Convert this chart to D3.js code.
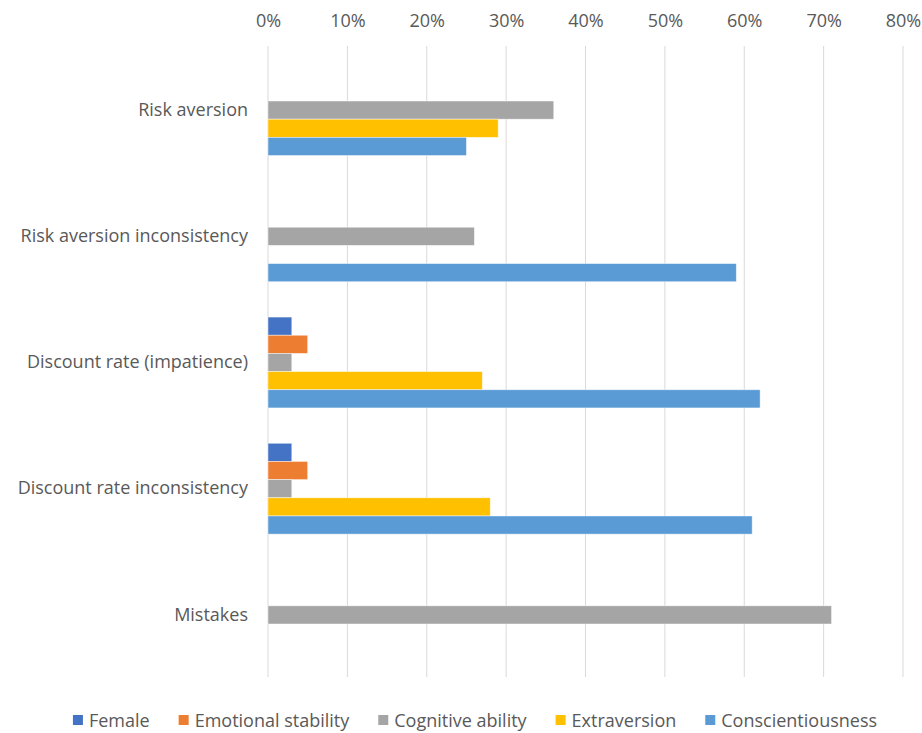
<!DOCTYPE html>
<html>
<head>
<meta charset="utf-8">
<script src="https://cdn.jsdelivr.net/npm/d3@7"></script>
<style>
  html, body { margin: 0; padding: 0; background: #fff; }
  svg text { font-family: "Open Sans", "Noto Sans", sans-serif; fill: #595959; }
</style>
</head>
<body>
<svg id="chart" width="922" height="733"></svg>
<script>
// Share of variance explained, by outcome and trait
const categories = ["Risk aversion", "Risk aversion inconsistency", "Discount rate (impatience)", "Discount rate inconsistency", "Mistakes"];
const seriesNames = ["Female", "Emotional stability", "Cognitive ability", "Extraversion", "Conscientiousness"];
const seriesColors = ["#4472C4", "#ED7D31", "#A5A5A5", "#FFC000", "#5B9BD5"];
const female        = [null, null, 0.03, 0.03, null];
const emotional     = [null, null, 0.05, 0.05, null];
const cognitive     = [0.36, 0.26, 0.03, 0.03, 0.71];
const extraversion  = [0.29, null, 0.27, 0.28, null];
const conscientious = [0.25, 0.59, 0.62, 0.61, null];
const seriesValues = [female, emotional, cognitive, extraversion, conscientious];
const tickValues = [0, 0.1, 0.2, 0.3, 0.4, 0.5, 0.6, 0.7, 0.8];

const svg = d3.select("#chart");
const fontSize = 18;
const fontFamily = '"Open Sans", "Noto Sans", sans-serif';

const x = d3.scaleLinear().domain([0, 0.8]).range([268, 903]);
const y = d3.scaleBand().domain(categories).range([47, 678]).paddingInner(0.28).paddingOuter(0.14);
const inner = d3.scaleBand().domain(seriesNames).range([0, y.bandwidth()]);

// vertical gridlines
svg.append("g").selectAll("line").data(tickValues).join("line")
  .attr("x1", d => x(d)).attr("x2", d => x(d))
  .attr("y1", 46).attr("y2", 677)
  .attr("stroke", "#d9d9d9").attr("stroke-width", 1);

// top axis labels
const xAxis = d3.axisTop(x).tickValues(tickValues).tickFormat(d3.format(".0%")).tickSize(0).tickPadding(0);
const gx = svg.append("g").attr("transform", "translate(0,27)").call(xAxis);
gx.select(".domain").remove();
gx.selectAll("text").attr("font-size", fontSize).attr("dy", 0)
  .style("font-family", fontFamily).attr("fill", "#595959");

// bars
const rows = [];
categories.forEach((c, i) => {
  seriesNames.forEach((s, j) => {
    const v = seriesValues[j][i];
    if (v != null) rows.push({ cat: c, series: s, value: v, color: seriesColors[j] });
  });
});
svg.append("g").selectAll("rect").data(rows).join("rect")
  .attr("x", x(0))
  .attr("y", d => y(d.cat) + inner(d.series))
  .attr("width", d => x(d.value) - x(0))
  .attr("height", inner.bandwidth())
  .attr("fill", d => d.color)
  .attr("stroke", "#ffffff").attr("stroke-opacity", 0.6).attr("stroke-width", 0.75);

// category labels
const yAxis = d3.axisLeft(y).tickSize(0).tickPadding(0);
const gy = svg.append("g").attr("transform", "translate(248,0)").call(yAxis);
gy.select(".domain").remove();
gy.selectAll("text").attr("font-size", fontSize)
  .style("font-family", fontFamily).attr("fill", "#595959");

// legend
const legend = svg.append("g");
const gap = 29;
let cx = 0;
seriesNames.forEach((s, j) => {
  const g = legend.append("g");
  g.append("rect").attr("x", 0).attr("y", -12).attr("width", 10).attr("height", 10).attr("fill", seriesColors[j]);
  const t = g.append("text").attr("x", 16).attr("y", 0).attr("font-size", fontSize).text(s);
  const w = 16 + t.node().getComputedTextLength();
  g.attr("transform", `translate(${cx},0)`);
  cx += w + gap;
});
const totalW = cx - gap;
legend.attr("transform", `translate(${(922 - totalW) / 2 + 14},727)`);
</script>
</body>
</html>
